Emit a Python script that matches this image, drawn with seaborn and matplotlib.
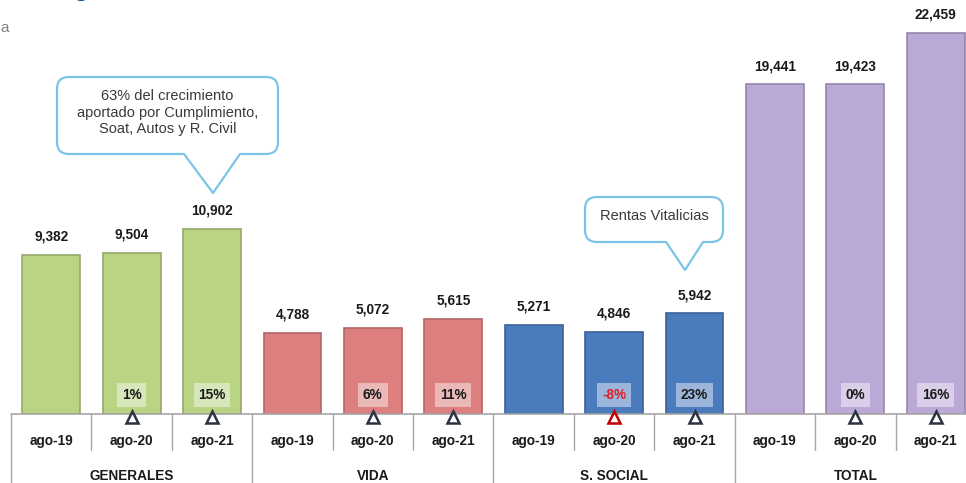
import numpy as np
import pandas as pd
import seaborn as sns
import matplotlib.pyplot as plt
import matplotlib.transforms as mtransforms
from matplotlib.patches import FancyBboxPatch, Polygon

# ---- data ----
groups = ['GENERALES', 'VIDA', 'S. SOCIAL', 'TOTAL']
periods = ['ago-19', 'ago-20', 'ago-21']
generales = [9382, 9504, 10902]
vida = [4788, 5072, 5615]
s_social = [5271, 4846, 5942]
total = [19441, 19423, 22459]
crec_generales = ['1%', '15%']
crec_vida = ['6%', '11%']
crec_social = ['-8%', '23%']
crec_total = ['0%', '16%']

values = [generales, vida, s_social, total]
growth = [crec_generales, crec_vida, crec_social, crec_total]

rows = []
for g, vals in zip(groups, values):
    for p, v in zip(periods, vals):
        rows.append({'group': g, 'period': p, 'key': g + '|' + p, 'value': v})
df = pd.DataFrame(rows)
keys = list(df['key'])

palette = {'GENERALES': '#b9d584', 'VIDA': '#dc7f7e',
           'S. SOCIAL': '#4a7bbd', 'TOTAL': '#baa8d6'}

sns.set_theme(style='white')
plt.rcParams['font.family'] = ['Liberation Sans', 'DejaVu Sans']

fig = plt.figure(figsize=(9.66, 4.83), dpi=100)
ax = fig.add_axes([11 / 966, 69 / 483, 965 / 966, 414 / 483])

sns.barplot(data=df, x='key', y='value', hue='group', order=keys, hue_order=groups,
            palette=palette, saturation=1, dodge=False, width=0.72, errorbar=None,
            legend=False, ax=ax)

for p in ax.patches:
    fc = p.get_facecolor()
    p.set_edgecolor(tuple(c * 0.8 for c in fc[:3]))
    p.set_linewidth(1.2)

ax.set_xlim(-0.5, 11.5)
ax.set_ylim(0, 24400)
ax.set_xticks([])
ax.set_yticks([])
ax.set_xlabel('')
ax.set_ylabel('')
sns.despine(ax=ax, left=True, bottom=True)
ax.axhline(0, color='#a6a6a6', lw=1.2, clip_on=False)

# value labels
for i, row in df.iterrows():
    ax.annotate(f"{row['value']:,}", (i, row['value']), xytext=(0, 8),
                textcoords='offset points', ha='center', va='bottom',
                fontsize=9.8, fontweight='bold', color='#1a1a1a')

tx = mtransforms.blended_transform_factory(ax.transData, ax.transAxes)

# growth boxes + triangles
for gi, labs in enumerate(growth):
    for j, lab in enumerate(labs):
        x = gi * 3 + j + 1
        neg = lab.startswith('-')
        ax.text(x, 0.046, lab, transform=tx, ha='center', va='center',
                fontsize=9.8, fontweight='bold', color='#e0202a' if neg else '#1a1a1a',
                bbox=dict(boxstyle='square,pad=0.35', fc='white', ec='none', alpha=0.45))
        ax.plot([x], [-0.008], marker='^', ms=9, mfc='white',
                mec='#c00000' if neg else '#2b3240', mew=1.8,
                transform=tx, clip_on=False)

# category table under the axis
for b in np.arange(-0.5, 12, 1.0):
    group_edge = int(round(b + 0.5)) % 3 == 0
    ax.plot([b, b], [0, -0.17 if group_edge else -0.088], transform=tx,
            color='#a6a6a6', lw=1, clip_on=False)
for i, row in df.iterrows():
    ax.text(i, -0.065, row['period'], transform=tx, ha='center', va='center',
            fontsize=9.8, fontweight='bold', color='#1a1a1a')
for gi, g in enumerate(groups):
    ax.text(gi * 3 + 1, -0.150, g, transform=tx, ha='center', va='center',
            fontsize=9.8, fontweight='bold', color='#1a1a1a')

# callouts, placed in figure pixels from the top-left
px = mtransforms.Affine2D().scale(1 / 966, -1 / 483).translate(0, 1) + fig.transFigure
blue = '#7cc3e8'


def callout(x0, y0, x1, y1, tl, tr, tip, text):
    box = FancyBboxPatch((x0, y0), x1 - x0, y1 - y0,
                         boxstyle='round,pad=0,rounding_size=12',
                         fc='white', ec=blue, lw=1.6, transform=px)
    fig.add_artist(box)
    fig.add_artist(Polygon([(tl, y1 - 2), (tl, y1), tip, (tr, y1), (tr, y1 - 2)],
                           closed=True, fc='white', ec='none', transform=px))
    fig.add_artist(plt.Line2D([tl, tip[0], tr], [y1, tip[1], y1], color=blue,
                              lw=1.6, transform=px))
    fig.text((x0 + x1) / 2, (y0 + y1) / 2 - 3, text, transform=px, ha='center',
             va='center', fontsize=10.5, color='#3a3a3a', linespacing=1.2,
             multialignment='center')


callout(57, 77, 278, 154, 184, 240, (213, 193),
        '63% del crecimiento\naportado por Cumplimiento,\nSoat, Autos y R. Civil')
callout(585, 197, 723, 242, 666, 703, (685, 270), 'Rentas Vitalicias')

# cropped title remnants
fig.text(0, 28, 'a', transform=px, ha='left', va='center', fontsize=11, color='#808080')
fig.text(81, -5, 'g', transform=px, ha='center', va='baseline', fontsize=20,
         fontweight='bold', color='#1f4e9a')

fig.savefig('out.png', dpi=100)
